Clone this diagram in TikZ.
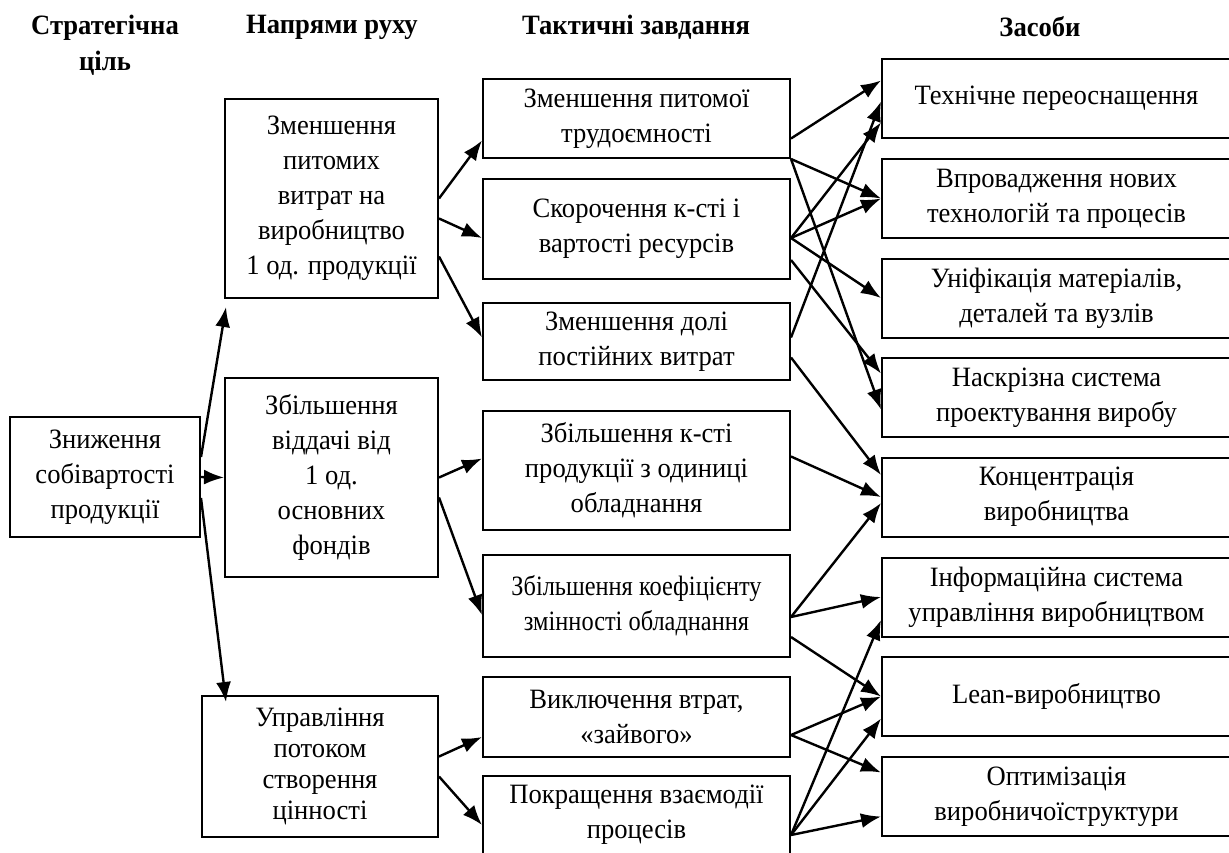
\documentclass[tikz,border=0pt]{standalone}
\usepackage{fontspec}
\setmainfont[FakeStretch=0.95]{Liberation Serif}
\newfontfamily\narrowserif[FakeStretch=0.87]{Liberation Serif}
\usetikzlibrary{arrows.meta}

\tikzset{
  box/.style={draw,rectangle,align=center,inner sep=0pt,line width=1pt,font=\fontsize{14}{17.5}\selectfont},
  head/.style={align=center,font=\bfseries\fontsize{14}{18}\selectfont},
  task/.style={box,minimum width=153.5pt},
  mean/.style={box,minimum width=174.5pt,minimum height=39.5pt},
}

\begin{document}
\begin{tikzpicture}[x=0.5pt,y=-0.5pt,->,>={Latex[length=10pt,width=7.5pt]},line width=1.2pt]
    \useasboundingbox (0,0) rectangle (1229,852);
    % column heads
    \node[head] (hgoal) at (105,45) {Стратегічна\\ціль};
    \node[head] (hdir) at (332,27) {Напрями руху};
    \node[head] (htask) at (636,27) {Тактичні завдання};
    \node[head] (hmean) at (1040,27) {Засоби};
    % goal and directions
    \node[box,minimum width=95pt,minimum height=60pt] (goal) at (105,477) {Зниження\\собівартості\\продукції};
    \node[box,minimum width=106.5pt,minimum height=99.5pt] (dir1) at (331.5,198.5) {Зменшення\\питомих\\витрат на\\виробництво\\1 од. продукції};
    \node[box,minimum width=106.5pt,minimum height=99.5pt] (dir2) at (331.5,477.5) {Збільшення\\віддачі від\\1 од.\\основних\\фондів};
    \node[box,minimum width=118pt,minimum height=70.5pt,font=\fontsize{14}{15.5}\selectfont] (dir3) at (320,766.5) {Управління\\потоком\\створення\\цінності};
    % tactical tasks
    \node[task,minimum height=39.5pt] (t1) at (636.5,118.5) {Зменшення питомої\\трудоємності};
    \node[task,minimum height=50pt] (t2) at (636.5,229) {Скорочення к-сті і\\вартості ресурсів};
    \node[task,minimum height=38.5pt] (t3) at (636.5,341.5) {Зменшення долі\\постійних витрат};
    \node[task,minimum height=59.5pt] (t4) at (636.5,470.5) {Збільшення к-сті\\продукції з одиниці\\обладнання};
    \node[task,minimum height=51pt,font=\narrowserif\fontsize{14}{17.5}\selectfont] (t5) at (636.5,606) {Збільшення коефіцієнту\\змінності обладнання};
    \node[task,minimum height=40pt] (t6) at (636.5,717) {Виключення втрат,\\«зайвого»};
    \node[task,minimum height=39pt] (t7) at (636.5,815) {Покращення взаємодії\\процесів};
    % means
    \node[mean] (m1) at (1056.5,98.5) {Технічне переоснащення};
    \node[mean] (m2) at (1056.5,198.5) {Впровадження нових\\технологій та процесів};
    \node[mean] (m3) at (1056.5,298) {Уніфікація матеріалів,\\деталей та вузлів};
    \node[mean] (m4) at (1056.5,397.5) {Наскрізна система\\проектування виробу};
    \node[mean] (m5) at (1056.5,497) {Концентрація\\виробництва};
    \node[mean] (m6) at (1056.5,597) {Інформаційна система\\управління виробництвом};
    \node[mean] (m7) at (1056.5,696.5) {Lean-виробництво};
    \node[mean] (m8) at (1056.5,796.5) {Оптимізація\\виробничоїструктури};

    % goal to directions
    \draw ([yshift=10pt]goal.east) -- ([xshift=1pt,yshift=-4pt]dir1.south west);
    \draw (goal.east) -- (dir2.west);
    \draw ([yshift=-10.5pt]goal.east) -- ([xshift=12.5pt,yshift=-3.5pt]dir3.north west);

    % directions to tasks
    \draw (dir1.east) -- ([yshift=-11pt]t1.west);
    \draw ([yshift=-10pt]dir1.east) -- ([yshift=-4.5pt]t2.west);
    \draw ([yshift=-29pt]dir1.east) -- ([yshift=2pt]t3.west);
    \draw (dir2.east) -- ([yshift=6pt]t4.west);
    \draw ([yshift=-10pt]dir2.east) -- ([yshift=-4.5pt]t5.west);
    \draw ([yshift=5pt]dir3.east) -- ([yshift=-10pt]t6.west);
    \draw ([yshift=-5pt]dir3.east) -- ([yshift=-5pt]t7.west);

    % tasks to means
    \draw ([yshift=-10pt]t1.east) -- ([yshift=9pt]m1.west);
    \draw (t1.south east) -- (m2.west);
    \draw (t1.south east) -- ([yshift=-6pt]m4.west);
    \draw ([yshift=-4.5pt]t2.east) -- ([yshift=-12pt]m1.west);
    \draw ([yshift=-4.5pt]t2.east) -- (m2.west);
    \draw ([yshift=-4.5pt]t2.east) -- (m3.west);
    \draw ([yshift=-15.5pt]t2.east) -- ([yshift=12pt]m4.west);
    \draw ([yshift=2pt]t3.east) -- ([yshift=-1.5pt]m1.west);
    \draw ([yshift=-8pt]t3.east) -- ([yshift=11pt]m5.west);
    \draw ([yshift=7pt]t4.east) -- (m5.west);
    \draw ([yshift=-5.5pt]t5.east) -- ([yshift=-3pt]m5.west);
    \draw ([yshift=-5.5pt]t5.east) -- (m6.west);
    \draw ([yshift=-15.5pt]t5.east) -- (m7.west);
    \draw ([yshift=-9pt]t6.east) -- (m7.west);
    \draw ([yshift=-9pt]t6.east) -- ([yshift=12pt]m8.west);
    \draw ([yshift=-10pt]t7.east) -- ([yshift=-11.5pt]m6.west);
    \draw ([yshift=-10pt]t7.east) -- ([yshift=-11pt]m7.west);
    \draw ([yshift=-10pt]t7.east) -- ([yshift=-10pt]m8.west);
\end{tikzpicture}
\end{document}
